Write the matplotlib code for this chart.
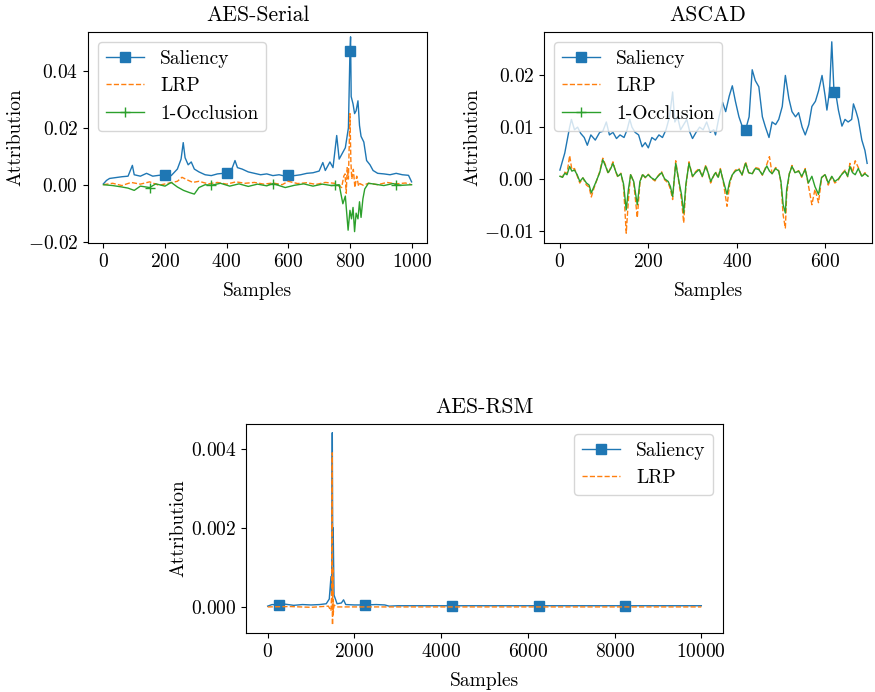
import numpy as np
import matplotlib
matplotlib.use("Agg")
import matplotlib.pyplot as plt

plt.rcParams['font.family'] = 'serif'
plt.rcParams['font.serif'] = ['cmr10']
plt.rcParams['mathtext.fontset'] = 'cm'
plt.rcParams['axes.formatter.use_mathtext'] = True
plt.rcParams['font.size'] = 14
plt.rcParams['axes.unicode_minus'] = True

# ---------------- AES-Serial ----------------
serial_sal_x = [0, 10, 20, 40, 60, 80, 94, 100, 120, 140, 160, 180, 200, 220, 240, 252, 259, 265, 275, 285,
                295, 310, 330, 350, 370, 390, 400, 415, 427, 435, 450, 470, 490, 510, 530, 550, 570, 590, 600,
                620, 640, 660, 680, 700, 712, 720, 735, 745, 757, 765, 775, 785, 795, 800, 802, 804, 810, 815,
                820, 826, 831, 836, 845, 854, 865, 875, 890, 910, 930, 950, 970, 990, 1000]
serial_sal_y = [0.0003, 0.0015, 0.0022, 0.0025, 0.0028, 0.0030, 0.0068, 0.0035, 0.0030, 0.0040, 0.0030, 0.0033,
                0.0035, 0.0032, 0.0055, 0.0090, 0.0148, 0.0095, 0.0070, 0.0080, 0.0055, 0.0045, 0.0035, 0.0032,
                0.0038, 0.0040, 0.0042, 0.0050, 0.0085, 0.0060, 0.0055, 0.0045, 0.0040, 0.0035, 0.0038, 0.0032,
                0.0035, 0.0030, 0.0035, 0.0032, 0.0035, 0.0040, 0.0042, 0.0048, 0.0078, 0.0050, 0.0080, 0.0060,
                0.0173, 0.0090, 0.0110, 0.0130, 0.0200, 0.0470, 0.0520, 0.0310, 0.0284, 0.0250, 0.0260, 0.0295,
                0.0208, 0.0170, 0.0150, 0.0085, 0.0070, 0.0050, 0.0040, 0.0038, 0.0035, 0.0040, 0.0035, 0.0033,
                0.0010]
serial_sal_marks = [200, 400, 600, 800]

serial_lrp_x = [0, 30, 60, 90, 120, 150, 180, 210, 240, 255, 270, 290, 310, 340, 370, 400, 430, 460, 490, 520,
                550, 580, 600, 630, 660, 690, 720, 750, 773, 780, 784, 788, 791, 795, 800, 803, 806, 811, 816,
                822, 828, 832, 843, 860, 890, 920, 950, 980, 1000]
serial_lrp_y = [0.0, 0.0005, -0.0003, 0.0008, 0.0002, 0.0010, -0.0002, 0.0005, 0.0012, 0.0026, 0.0018, 0.0008,
                0.0012, 0.0003, 0.0008, 0.0002, 0.0010, 0.0005, 0.0008, 0.0002, 0.0006, 0.0000, 0.0012, 0.0004,
                0.0007, 0.0001, 0.0008, 0.0005, -0.0010, 0.0030, 0.0038, -0.0030, 0.0060, 0.0020, 0.0250, 0.0080,
                0.0020, 0.0054, -0.0010, 0.0030, -0.0005, 0.0004, -0.0002, 0.0005, 0.0000, 0.0008, 0.0003, 0.0006,
                0.0]

serial_occ_x = [0, 30, 60, 80, 100, 120, 150, 170, 200, 220, 240, 260, 280, 295, 310, 330, 350, 380, 410, 440,
                470, 500, 530, 550, 590, 620, 650, 680, 710, 740, 750, 765, 777, 785, 794, 800, 805, 810, 815,
                820, 826, 831, 836, 842, 848, 860, 880, 910, 940, 950, 970, 1000]
serial_occ_y = [0.0, -0.0003, -0.0008, -0.0012, -0.0020, -0.0005, -0.0010, 0.0003, -0.0005, 0.0008, -0.0008,
                -0.0020, -0.0028, -0.0033, -0.0010, 0.0000, -0.0002, 0.0005, -0.0005, 0.0003, -0.0006, 0.0002,
                -0.0004, 0.0004, -0.0010, -0.0002, 0.0003, -0.0005, 0.0002, -0.0003, -0.0002, 0.0000, -0.0067,
                -0.0040, -0.0160, -0.0090, -0.0120, -0.0080, -0.0165, -0.0100, -0.0120, -0.0060, -0.0115,
                -0.0050, -0.0015, 0.0005, 0.0002, -0.0003, 0.0004, 0.0000, -0.0002, 0.0]
serial_occ_marks = [150, 350, 550, 750, 950]

# ---------------- ASCAD ----------------
ascad_sal_x = [0, 11, 22, 26, 33, 40, 47, 55, 62, 70, 80, 90, 97, 105, 112, 120, 128, 136, 145, 152, 158, 163,
               170, 178, 186, 193, 200, 208, 216, 224, 232, 240, 248, 255, 260, 266, 273, 280, 287, 294, 300,
               308, 316, 324, 332, 340, 348, 352, 360, 368, 375, 383, 390, 397, 405, 413, 420, 428, 435, 442,
               450, 458, 465, 473, 480, 488, 495, 503, 510, 518, 525, 533, 540, 548, 555, 563, 570, 578, 585,
               593, 600, 604, 610, 615, 620, 625, 630, 638, 645, 652, 660, 664, 670, 675, 683, 690, 695]
ascad_sal_y = [0.0017, 0.0050, 0.0100, 0.0115, 0.0095, 0.0100, 0.0088, 0.0080, 0.0065, 0.0085, 0.0075, 0.0090,
               0.0092, 0.0110, 0.0085, 0.0090, 0.0078, 0.0085, 0.0080, 0.0095, 0.0115, 0.0100, 0.0090, 0.0085,
               0.0062, 0.0070, 0.0060, 0.0080, 0.0075, 0.0085, 0.0080, 0.0095, 0.0120, 0.0168, 0.0110, 0.0120,
               0.0095, 0.0105, 0.0115, 0.0090, 0.0078, 0.0090, 0.0100, 0.0095, 0.0110, 0.0090, 0.0095, 0.0085,
               0.0120, 0.0148, 0.0130, 0.0160, 0.0180, 0.0150, 0.0120, 0.0100, 0.0095, 0.0120, 0.0211, 0.0190,
               0.0178, 0.0120, 0.0100, 0.0080, 0.0110, 0.0105, 0.0115, 0.0140, 0.0200, 0.0155, 0.0130, 0.0120,
               0.0128, 0.0100, 0.0085, 0.0105, 0.0140, 0.0150, 0.0170, 0.0200, 0.0160, 0.0133, 0.0170, 0.0265,
               0.0168, 0.0160, 0.0133, 0.0102, 0.0115, 0.0110, 0.0115, 0.0145, 0.0130, 0.0115, 0.0075, 0.0055,
               0.0030]
ascad_sal_marks = [420, 620]

ascad_x = [0, 6, 11, 16, 22, 27, 33, 39, 45, 52, 60, 66, 71, 77, 82, 90, 97, 103, 109, 115, 120, 126, 131, 138,
           144, 150, 155, 160, 167, 175, 181, 187, 193, 200, 207, 215, 222, 230, 237, 245, 250, 255, 262, 270,
           275, 280, 285, 292, 300, 307, 315, 322, 330, 336, 341, 347, 352, 358, 363, 370, 378, 384, 390, 397,
           405, 412, 420, 427, 435, 442, 450, 458, 468, 474, 480, 488, 495, 500, 505, 510, 513, 519, 525, 532,
           540, 547, 555, 562, 570, 577, 585, 592, 600, 607, 615, 622, 630, 637, 645, 651, 656, 662, 668, 675,
           683, 690, 697]
ascad_occ_y = [0.0005, 0.0003, 0.0011, 0.0008, 0.0024, 0.0015, 0.0017, 0.0008, -0.0005, 0.0002, -0.0008, -0.0012,
               -0.0027, -0.0015, -0.0005, 0.0012, 0.0037, 0.0025, 0.0012, 0.0020, 0.0030, 0.0015, 0.0005, 0.0010,
               -0.0010, -0.0060, -0.0020, 0.0008, -0.0005, -0.0050, -0.0005, 0.0008, 0.0003, 0.0008, 0.0002,
               -0.0002, 0.0005, 0.0012, 0.0000, -0.0005, -0.0015, -0.0034, 0.0030, -0.0008, -0.0030, -0.0066,
               -0.0010, 0.0030, 0.0005, 0.0012, 0.0018, 0.0005, 0.0024, 0.0010, -0.0005, 0.0005, 0.0012, 0.0003,
               0.0018, -0.0005, -0.0030, -0.0005, 0.0008, 0.0015, 0.0018, 0.0008, 0.0030, 0.0012, 0.0010, 0.0020,
               0.0018, 0.0008, 0.0025, 0.0015, 0.0010, 0.0020, 0.0015, -0.0005, -0.0050, -0.0066, -0.0020, 0.0010,
               0.0024, 0.0012, 0.0015, 0.0005, 0.0018, -0.0008, 0.0005, -0.0015, -0.0030, 0.0003, 0.0008, -0.0008,
               0.0005, -0.0005, 0.0000, 0.0008, 0.0015, 0.0005, 0.0024, 0.0012, 0.0008, 0.0020, 0.0005, 0.0010,
               0.0005]
ascad_lrp_y = [0.0005, 0.0004, 0.0013, 0.0010, 0.0045, 0.0018, 0.0020, 0.0006, -0.0008, 0.0002, -0.0012, -0.0016,
               -0.0035, -0.0018, -0.0006, 0.0014, 0.0040, 0.0027, 0.0010, 0.0022, 0.0033, 0.0014, 0.0003, 0.0011,
               -0.0015, -0.0105, -0.0040, 0.0010, -0.0008, -0.0075, -0.0008, 0.0010, 0.0002, 0.0009, 0.0001,
               -0.0004, 0.0006, 0.0014, -0.0002, -0.0008, -0.0020, -0.0040, 0.0035, -0.0012, -0.0040, -0.0085,
               -0.0015, 0.0033, 0.0004, 0.0014, 0.0020, 0.0004, 0.0027, 0.0009, -0.0008, 0.0004, 0.0014, 0.0002,
               0.0020, -0.0008, -0.0053, -0.0010, 0.0008, 0.0017, 0.0020, 0.0007, 0.0033, 0.0012, 0.0009, 0.0022,
               0.0020, 0.0007, 0.0028, 0.0043, 0.0010, 0.0022, 0.0016, -0.0008, -0.0070, -0.0095, -0.0030, 0.0010,
               0.0026, 0.0011, 0.0016, 0.0003, 0.0020, -0.0012, -0.0050, -0.0020, -0.0046, 0.0002, 0.0009, -0.0012,
               0.0004, -0.0008, -0.0002, 0.0009, 0.0017, 0.0004, 0.0030, 0.0012, 0.0035, 0.0022, 0.0004, 0.0012,
               0.0005]

# ---------------- AES-RSM ----------------
rsm_sal_x = [0, 100, 250, 400, 600, 800, 1000, 1200, 1350, 1420, 1460, 1475, 1490, 1500, 1510, 1530, 1600,
             1700, 1750, 1800, 2000, 2250, 2500, 2700, 2800, 3000, 3500, 4000, 4250, 4500, 5000, 5500, 6000,
             6250, 6500, 7000, 7500, 8000, 8250, 8500, 9000, 9500, 10000]
rsm_sal_y = [0.00002, 0.00006, 0.00005, 0.00007, 0.00004, 0.00006, 0.00005, 0.00006, 0.00008, 0.00020, 0.00077,
             0.00030, 0.00441, 0.00150, 0.00200, 0.00030, 0.00008, 0.00010, 0.00018, 0.00006, 0.00005, 0.00005,
             0.00006, 0.00005, 0.00002, 0.00003, 0.00003, 0.00003, 0.00003, 0.00003, 0.00003, 0.00003, 0.00003,
             0.00003, 0.00003, 0.00003, 0.00003, 0.00003, 0.00003, 0.00003, 0.00003, 0.00003, 0.00003]
rsm_sal_marks = [250, 2250, 4250, 6250, 8250]

rsm_lrp_x = [0, 500, 1000, 1400, 1460, 1480, 1490, 1495, 1500, 1510, 1530, 1600, 2000, 3000, 4000, 5000, 6000,
             7000, 8000, 9000, 10000]
rsm_lrp_y = [0.0, 0.00001, -0.00001, 0.00002, -0.00010, 0.00050, 0.00390, -0.00046, 0.00100, -0.00020, 0.00005,
             0.0, 0.0, 0.0, 0.0, 0.0, 0.0, 0.0, 0.0, 0.0, 0.0]


def mark_idx(xs, marks):
    arr = np.asarray(xs)
    return [int(np.argmin(np.abs(arr - m))) for m in marks]


W, H = 875, 692
fig = plt.figure(figsize=(W / 100, H / 100), dpi=100)


def ax_px(l, r, t, b):
    return fig.add_axes([l / W, 1 - b / H, (r - l) / W, (b - t) / H])


lw = 1.0
ms = 7
title_fs = 15.6
title_pad = 8
xpad = 8
ypad = 2

# AES-Serial
ax1 = ax_px(88, 427, 32, 243)
ax1.plot(serial_sal_x, serial_sal_y, color='C0', lw=lw, marker='s', ms=ms,
         markevery=mark_idx(serial_sal_x, serial_sal_marks), label='Saliency')
ax1.plot(serial_lrp_x, serial_lrp_y, color='C1', lw=lw, ls='--', label='LRP')
ax1.plot(serial_occ_x, serial_occ_y, color='C2', lw=lw, marker='+', ms=ms,
         markevery=mark_idx(serial_occ_x, serial_occ_marks), label='1-Occlusion')
ax1.set_xlim(-50, 1050)
ax1.set_ylim(-0.0205, 0.0537)
ax1.set_xticks([0, 200, 400, 600, 800, 1000])
ax1.set_yticks([-0.02, 0.0, 0.02, 0.04])
ax1.set_title('AES-Serial', fontsize=title_fs, pad=title_pad)
ax1.set_xlabel('Samples', labelpad=xpad)
ax1.set_ylabel('Attribution', labelpad=ypad)
ax1.legend(loc='upper left')

# ASCAD
ax2 = ax_px(544, 872, 32, 243)
ax2.plot(ascad_sal_x, ascad_sal_y, color='C0', lw=lw, marker='s', ms=ms,
         markevery=mark_idx(ascad_sal_x, ascad_sal_marks), label='Saliency')
ax2.plot(ascad_x, ascad_lrp_y, color='C1', lw=lw, ls='--', label='LRP')
ax2.plot(ascad_x, ascad_occ_y, color='C2', lw=lw, marker='+', ms=ms,
         markevery=[], label='1-Occlusion')
ax2.set_xlim(-36, 706)
ax2.set_ylim(-0.0124, 0.0284)
ax2.set_xticks([0, 200, 400, 600])
ax2.set_yticks([-0.01, 0.0, 0.01, 0.02])
ax2.set_title('ASCAD', fontsize=title_fs, pad=title_pad)
ax2.set_xlabel('Samples', labelpad=xpad)
ax2.set_ylabel('Attribution', labelpad=ypad)
ax2.legend(loc='upper left')

# AES-RSM
ax3 = ax_px(246, 723, 424, 633)
ax3.plot(rsm_sal_x, rsm_sal_y, color='C0', lw=lw, marker='s', ms=ms,
         markevery=mark_idx(rsm_sal_x, rsm_sal_marks), label='Saliency')
ax3.plot(rsm_lrp_x, rsm_lrp_y, color='C1', lw=lw, ls='--', label='LRP')
ax3.set_xlim(-500, 10500)
ax3.set_ylim(-0.00066, 0.00463)
ax3.set_xticks([0, 2000, 4000, 6000, 8000, 10000])
ax3.set_yticks([0.0, 0.002, 0.004])
ax3.set_title('AES-RSM', fontsize=title_fs, pad=title_pad)
ax3.set_xlabel('Samples', labelpad=xpad)
ax3.set_ylabel('Attribution', labelpad=ypad)
ax3.legend(loc='upper right')

fig.savefig('out.png', dpi=100)
